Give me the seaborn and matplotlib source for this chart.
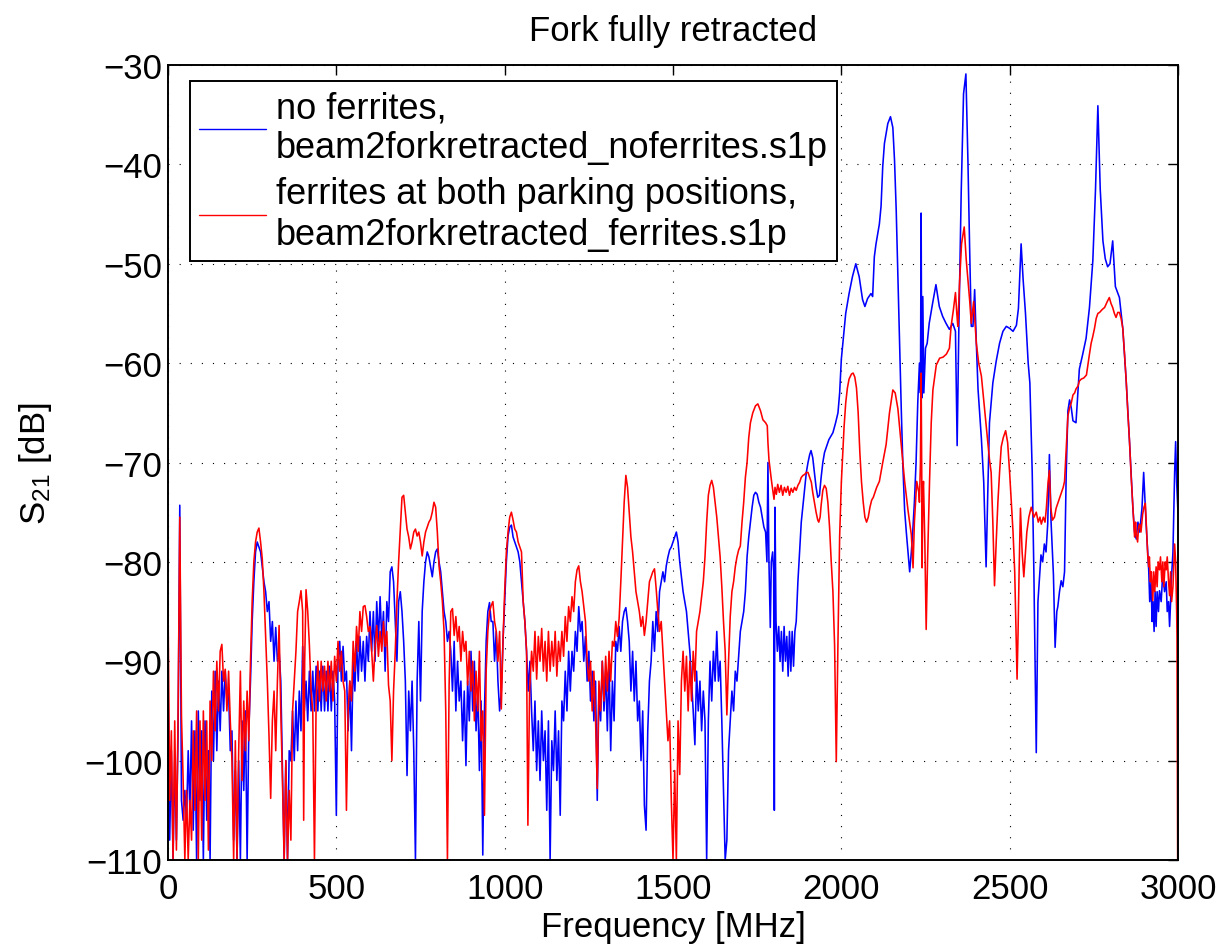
import matplotlib
matplotlib.use("Agg")
import matplotlib.pyplot as plt
import pandas as pd
import seaborn as sns

# ---------------- text ----------------
title = "Fork fully retracted"
xlabel = "Frequency [MHz]"
ylabel = "S$_{21}$ [dB]"
blue_label = "no ferrites,\nbeam2forkretracted_noferrites.s1p"
red_label = "ferrites at both parking positions,\nbeam2forkretracted_ferrites.s1p"
x_ticks = [0, 500, 1000, 1500, 2000, 2500, 3000]
y_ticks = [-110, -100, -90, -80, -70, -60, -50, -40, -30]

# ---------------- data (frequency MHz, S21 dB) ----------------
blue_points = [
    (0, -92), (5, -108), (10, -99), (15, -110), (20, -100), (25, -108), (30, -97), (35, -74.3),
    (40, -104), (45, -106), (50, -103), (55, -106), (60, -99), (65, -105), (70, -96), (75, -107),
    (80, -97), (85, -110), (90, -95), (95, -104), (100, -97), (105, -110), (110, -96), (115, -106),
    (120, -99), (125, -110), (130, -93), (135, -100), (140, -91), (145, -99), (150, -92), (155, -97),
    (160, -91), (165, -95), (170, -91), (175, -94), (180, -93), (185, -99), (190, -97), (195, -108),
    (200, -101), (205, -110), (210, -100), (215, -110), (220, -96), (225, -103), (230, -95), (235, -110),
    (240, -97), (245, -92), (250, -86), (255, -82), (260, -79), (265, -78), (270, -78.5), (275, -79),
    (280, -80.5), (285, -82), (290, -83), (295, -85), (300, -84), (305, -88), (310, -86), (315, -90),
    (320, -86.6), (325, -90), (330, -89), (335, -92), (340, -101), (345, -110), (350, -100), (355, -110),
    (360, -99), (365, -100), (370, -95), (375, -100), (380, -94), (385, -99), (390, -93), (395, -97),
    (400, -88.5), (405, -95), (410, -92), (415, -96), (420, -91), (425, -95), (430, -91), (435, -95),
    (440, -90.5), (445, -95), (450, -91), (455, -95), (460, -90.5), (465, -95), (470, -91), (475, -95),
    (480, -90.5), (485, -95), (490, -91), (495, -94), (500, -105.5), (505, -90), (510, -88), (515, -92),
    (520, -88.5), (525, -92), (530, -91), (535, -97), (540, -92), (545, -99), (550, -90), (555, -93),
    (560, -88), (565, -92), (570, -87.5), (575, -91), (580, -88), (585, -92), (590, -87.5), (595, -90),
    (600, -85), (605, -89), (610, -85), (615, -90), (620, -84), (625, -88), (630, -83.5), (635, -88),
    (640, -85), (645, -91), (650, -84), (655, -86), (660, -81), (665, -80.5), (670, -82), (675, -86),
    (680, -90), (685, -84), (690, -83), (695, -85), (700, -88), (705, -92), (710, -101.5), (715, -93),
    (720, -97), (725, -92), (730, -99), (735, -110), (740, -92), (745, -86), (750, -94), (755, -85),
    (760, -82), (765, -80), (770, -79), (775, -79.5), (780, -80.5), (785, -81.5), (790, -80), (795, -79),
    (800, -78.7), (805, -80), (810, -81), (815, -83), (820, -85), (825, -86), (830, -88), (835, -87),
    (840, -89), (845, -93), (850, -88), (855, -95), (860, -90), (865, -94), (870, -92), (875, -98),
    (880, -93), (885, -100.5), (890, -92), (895, -96), (900, -89), (905, -95), (910, -90), (915, -97),
    (920, -93), (925, -101), (930, -94), (935, -109.5), (940, -95), (945, -88), (950, -85), (955, -84.1),
    (960, -86), (965, -86), (970, -90), (975, -87), (980, -92), (985, -95), (990, -93), (995, -88),
    (1000, -84), (1005, -80), (1010, -77.4), (1015, -76.5), (1020, -76.3), (1025, -77.5), (1030, -78),
    (1035, -78.5), (1040, -79), (1045, -80), (1050, -82), (1055, -84), (1060, -86), (1065, -89),
    (1070, -93), (1075, -90), (1080, -95), (1085, -99), (1090, -94), (1095, -101), (1100, -96),
    (1105, -102), (1110, -95), (1115, -100), (1120, -97), (1125, -105), (1130, -96), (1135, -110),
    (1140, -98), (1145, -101), (1150, -95), (1155, -102), (1160, -97), (1165, -105.5), (1170, -94),
    (1175, -96), (1180, -91), (1185, -95), (1190, -89), (1195, -93), (1200, -89), (1205, -91),
    (1210, -87), (1215, -89), (1220, -84.5), (1225, -87), (1230, -86), (1235, -90), (1240, -87.5),
    (1245, -92), (1250, -89), (1255, -94), (1260, -91), (1265, -96), (1270, -92), (1275, -104),
    (1280, -93), (1285, -96), (1290, -90), (1295, -95), (1300, -91), (1305, -97), (1310, -90),
    (1315, -99), (1320, -92), (1325, -96), (1330, -88), (1335, -89), (1340, -86.5), (1345, -89),
    (1350, -86), (1355, -85), (1360, -84.6), (1365, -86), (1370, -88), (1375, -93), (1380, -89),
    (1385, -94), (1390, -90), (1395, -96), (1400, -94), (1405, -100), (1410, -95), (1415, -104.5),
    (1420, -107), (1425, -97), (1430, -92), (1435, -90), (1440, -86), (1445, -89), (1450, -85),
    (1455, -87), (1460, -83), (1465, -82), (1470, -81), (1475, -82), (1480, -80.4), (1485, -79.5),
    (1490, -78.8), (1495, -78.5), (1500, -78), (1505, -77.5), (1510, -77), (1515, -78), (1520, -80),
    (1525, -81.5), (1530, -83), (1535, -84), (1540, -85), (1545, -87), (1550, -89), (1555, -92),
    (1560, -95), (1565, -98.4), (1570, -91), (1575, -95), (1580, -92), (1585, -97), (1590, -93),
    (1595, -96), (1600, -110), (1605, -96), (1610, -90), (1615, -94), (1620, -89), (1625, -92),
    (1630, -87), (1635, -92), (1640, -90), (1645, -96), (1650, -103), (1655, -110), (1660, -108),
    (1665, -99), (1670, -96), (1675, -93), (1680, -95), (1685, -91), (1690, -92), (1695, -89.5),
    (1700, -87), (1705, -86), (1710, -85), (1715, -83), (1720, -79.5), (1725, -77.5), (1730, -76),
    (1735, -74.5), (1740, -73.3), (1745, -73), (1750, -73.2), (1755, -74), (1760, -74.5), (1765, -75.5),
    (1770, -76.5), (1775, -77), (1779, -80), (1782, -70), (1785, -80), (1789, -86.6), (1792, -80),
    (1796, -79), (1799, -81), (1801, -105), (1803, -74.5), (1806, -86), (1810, -89), (1814, -86.5),
    (1818, -90), (1822, -87), (1826, -91), (1830, -86.5), (1834, -90), (1838, -87.5), (1842, -91.5),
    (1846, -87), (1850, -91), (1854, -87), (1858, -90.5), (1862, -87), (1866, -86), (1871, -82),
    (1876, -79), (1881, -76), (1886, -74.3), (1891, -72.5), (1896, -71), (1901, -70), (1906, -69.2),
    (1910, -68.8), (1915, -69.5), (1920, -71), (1925, -72.5), (1930, -73.5), (1935, -73.3),
    (1940, -71.5), (1945, -70), (1950, -69), (1955, -68.5), (1963, -67.7), (1975, -67), (1983, -66),
    (1990, -65), (1995, -63), (2000, -59.6), (2013, -55), (2023, -53), (2033, -51.3), (2043, -50),
    (2053, -51.3), (2063, -53.6), (2070, -54.3), (2078, -53.5), (2088, -53), (2093, -53.3),
    (2098, -49.3), (2103, -48), (2113, -46), (2118, -44.2), (2123, -40.2), (2128, -37.9),
    (2138, -35.9), (2146, -35.2), (2153, -36.3), (2158, -39.6), (2163, -44.6), (2168, -51.3),
    (2173, -58), (2178, -64.6), (2183, -70.5), (2188, -74.8), (2193, -77), (2198, -79), (2203, -81),
    (2208, -79), (2212, -77), (2217, -74), (2222, -70), (2227, -64), (2232, -60), (2235, -63),
    (2237, -44.9), (2239, -63.5), (2242, -53.3), (2245, -63), (2250, -58.5), (2255, -58),
    (2261, -56), (2271, -54), (2281, -52.1), (2291, -54.3), (2301, -55.3), (2311, -56), (2321, -56.6),
    (2331, -56), (2339, -56.8), (2344, -68.3), (2349, -56.5), (2356, -42.9), (2363, -32.9),
    (2370, -30.9), (2376, -39.6), (2381, -48.3), (2386, -56.3), (2391, -56.3), (2396, -52.6),
    (2401, -58), (2406, -62.6), (2416, -67.6), (2423, -72), (2430, -80.5), (2435, -73), (2440, -66),
    (2450, -62), (2460, -59.8), (2470, -58), (2480, -56.8), (2490, -56.3), (2500, -56.5),
    (2510, -56.8), (2520, -56.2), (2526, -54.5), (2534, -48), (2540, -51.6), (2547, -55),
    (2555, -60), (2560, -62), (2567, -71), (2572, -81.3), (2579, -99.2), (2584, -84), (2593, -79.3),
    (2598, -80), (2603, -78.2), (2608, -79), (2613, -76.2), (2618, -69.2), (2623, -76), (2630, -81.3),
    (2635, -88.6), (2640, -85), (2643, -84.5), (2648, -83), (2653, -81.9), (2658, -82.5),
    (2663, -81), (2668, -71), (2673, -64.8), (2678, -63.7), (2683, -64.5), (2688, -65.8),
    (2697, -66), (2707, -60.6), (2717, -59.1), (2727, -57.5), (2737, -54.4), (2747, -49.7),
    (2755, -42.5), (2762, -34.1), (2769, -42.5), (2777, -47.7), (2784, -49.5), (2791, -50.3),
    (2798, -50), (2806, -47.7), (2814, -52.3), (2826, -53.4), (2836, -56.5), (2846, -61.7),
    (2856, -67.9), (2866, -74.6), (2871, -77), (2876, -77.7), (2881, -76), (2886, -77), (2893, -74.6),
    (2898, -71), (2905, -76), (2910, -79), (2913, -80.8), (2916, -84), (2920, -82), (2923, -86),
    (2926, -84), (2929, -87), (2932, -83), (2935, -86.5), (2938, -83), (2942, -85), (2945, -82.9),
    (2950, -84), (2955, -81), (2960, -83), (2965, -82), (2968, -85), (2972, -84), (2975, -86.5),
    (2978, -84), (2980, -82), (2985, -79), (2990, -71), (2993, -67.9), (2996, -72), (3000, -75.1),
]

red_points = [
    (0, -84), (5, -104), (10, -97), (15, -110), (20, -96), (25, -109), (30, -95), (35, -75.5),
    (40, -95.5), (45, -102), (50, -110), (55, -103), (60, -110), (65, -104), (70, -108), (75, -97),
    (80, -105), (85, -95), (90, -110), (95, -96), (100, -108), (105, -95), (110, -104), (115, -96),
    (120, -109), (125, -94), (130, -100), (135, -91), (140, -97), (145, -90), (150, -95), (155, -89),
    (160, -88.3), (165, -92), (170, -90.8), (175, -95), (180, -91), (185, -96), (190, -100),
    (195, -110), (200, -98), (205, -110), (210, -99), (215, -91), (220, -102), (225, -94), (230, -99),
    (235, -93), (240, -98), (245, -90), (250, -84), (255, -80), (260, -78), (265, -77), (270, -76.6),
    (275, -78), (280, -79.7), (285, -83), (290, -87.4), (295, -92), (300, -97.5), (305, -103.8),
    (310, -96), (315, -93), (320, -99), (325, -92), (330, -86.4), (335, -95), (340, -102), (345, -110),
    (350, -100), (355, -110), (360, -103), (365, -108), (370, -95), (375, -92), (380, -89), (385, -85),
    (390, -84), (395, -82.9), (400, -85), (403, -106), (406, -90), (410, -82.8), (415, -85),
    (420, -88.4), (425, -93), (430, -95), (435, -110), (440, -94), (445, -90), (450, -94), (455, -90),
    (460, -93), (465, -90.5), (470, -94), (475, -90), (480, -93), (485, -90), (490, -94), (495, -89.5),
    (500, -92), (505, -88), (510, -91), (515, -89), (520, -92), (525, -93), (530, -105), (535, -95),
    (540, -92), (545, -94), (550, -88), (555, -91), (560, -86.5), (565, -89), (570, -85), (575, -87),
    (580, -84.5), (585, -84.4), (590, -85.5), (595, -87), (600, -86.5), (605, -89), (610, -92),
    (615, -88.5), (620, -86.4), (625, -89.5), (630, -87), (635, -89), (640, -86), (645, -88.5),
    (650, -87), (655, -92.4), (660, -94), (665, -100), (670, -93), (675, -89), (680, -84),
    (685, -80), (690, -76.7), (695, -73.5), (700, -73.3), (705, -75), (710, -76.7), (715, -77.5),
    (720, -78.7), (725, -78), (730, -77), (735, -76.7), (740, -77.4), (745, -77), (750, -78),
    (755, -79.4), (760, -78), (765, -77), (770, -76.5), (775, -76), (780, -75.7), (785, -75),
    (790, -74), (795, -74.5), (800, -77), (805, -80.4), (810, -82), (815, -84), (820, -87),
    (825, -95), (830, -110), (835, -92.4), (840, -85), (845, -84.7), (850, -87.4), (855, -85.5),
    (860, -88), (865, -86.5), (870, -90), (875, -87), (880, -89), (885, -88), (890, -92.4), (895, -89),
    (900, -93), (905, -90), (910, -96), (915, -91), (920, -95), (925, -89), (930, -98), (935, -95),
    (940, -105.5), (945, -91), (950, -87), (955, -85), (960, -84.4), (965, -84), (970, -86),
    (975, -87), (980, -90), (985, -87), (990, -94.8), (995, -88), (1000, -83), (1005, -79),
    (1010, -77), (1015, -75.5), (1020, -75), (1025, -75.8), (1030, -76.7), (1035, -77), (1040, -78),
    (1045, -78.5), (1050, -79), (1055, -84), (1060, -86), (1065, -89), (1069, -106.5), (1074, -93),
    (1080, -89), (1085, -91), (1090, -87), (1095, -91.8), (1100, -87.5), (1105, -90), (1110, -86.7),
    (1115, -91), (1120, -88), (1125, -92), (1130, -87), (1135, -91), (1140, -88), (1145, -90.5),
    (1150, -87), (1155, -91.5), (1160, -88), (1165, -90), (1170, -87), (1175, -89.5), (1180, -85.5),
    (1185, -88), (1190, -84.5), (1195, -86), (1200, -83.5), (1205, -85), (1210, -82), (1215, -80.8),
    (1220, -80.4), (1225, -82), (1230, -83), (1235, -84.5), (1240, -86), (1245, -90), (1250, -92),
    (1255, -90), (1260, -95), (1265, -91), (1270, -96), (1275, -102.8), (1280, -92), (1285, -95),
    (1290, -90), (1295, -94), (1300, -89.5), (1305, -93), (1310, -89), (1315, -92), (1320, -88),
    (1325, -88.5), (1330, -86), (1335, -87.5), (1340, -85.7), (1345, -82), (1350, -78), (1355, -74),
    (1360, -71.3), (1365, -72.5), (1370, -75), (1375, -77.5), (1380, -79), (1385, -81), (1390, -83),
    (1395, -84), (1400, -85), (1405, -86.5), (1410, -85.5), (1415, -87.4), (1420, -86), (1425, -84),
    (1430, -82), (1435, -81.5), (1440, -81), (1445, -80.7), (1450, -82.7), (1455, -85), (1460, -87),
    (1465, -86), (1470, -89), (1475, -92), (1480, -95), (1485, -98), (1490, -96), (1495, -104),
    (1500, -110), (1505, -101), (1510, -110), (1515, -96), (1520, -101.4), (1525, -92), (1530, -89),
    (1535, -93), (1540, -89.5), (1545, -95), (1550, -90), (1555, -94), (1560, -89), (1565, -92),
    (1570, -87), (1575, -86), (1580, -85), (1585, -83.5), (1590, -82), (1595, -79.5), (1600, -76),
    (1605, -73.3), (1610, -72.3), (1615, -71.8), (1620, -72.5), (1625, -74), (1630, -75.5),
    (1635, -77.5), (1640, -79.5), (1645, -82.5), (1650, -86), (1655, -89), (1660, -95.4), (1665, -90),
    (1670, -85.5), (1675, -83), (1680, -82), (1685, -80.5), (1690, -79.5), (1695, -78.8),
    (1700, -78.4), (1705, -76), (1710, -74), (1715, -71.5), (1720, -70), (1725, -67.5), (1730, -66),
    (1737, -65), (1745, -64.3), (1752, -64.1), (1760, -64.8), (1767, -65.7), (1775, -66), (1780, -66.3),
    (1782, -68), (1785, -69.7), (1792, -71.7), (1800, -73.7), (1803, -72.5), (1807, -73.2),
    (1811, -72.2), (1816, -73), (1821, -72.3), (1826, -73.3), (1831, -72.5), (1836, -73),
    (1841, -72.4), (1846, -73.3), (1851, -72.6), (1856, -73), (1861, -72.5), (1866, -72.8),
    (1871, -72.3), (1876, -72), (1881, -71.5), (1886, -71.3), (1891, -71.2), (1896, -71), (1901, -71),
    (1906, -71.5), (1911, -72), (1915, -73), (1920, -74), (1925, -75), (1930, -75.8), (1933, -76),
    (1937, -75.5), (1940, -74.3), (1945, -72.8), (1950, -72.3), (1955, -72.6), (1960, -74),
    (1965, -76.5), (1970, -80), (1975, -83), (1980, -88.4), (1985, -100.1), (1990, -88),
    (1995, -77.4), (2000, -72), (2003, -70), (2008, -66.5), (2013, -64), (2018, -62.5), (2023, -61.6),
    (2030, -61.1), (2035, -61), (2040, -61.4), (2045, -62.5), (2050, -65), (2055, -69), (2060, -72),
    (2065, -74), (2070, -75.5), (2075, -76), (2080, -75.5), (2085, -74.5), (2090, -73.8),
    (2095, -73.5), (2100, -73), (2105, -72.5), (2113, -71.9), (2123, -70), (2133, -68.2), (2143, -65),
    (2153, -62.7), (2160, -63), (2168, -64.6), (2178, -68.2), (2188, -71.9), (2198, -74.8),
    (2208, -77.3), (2213, -80.6), (2217, -76), (2224, -71.9), (2230, -73), (2232, -74), (2235, -70),
    (2237, -61), (2239, -72), (2240, -80.6), (2242, -73), (2244, -71.9), (2248, -78), (2252, -86.8),
    (2256, -80), (2262, -71.9), (2267, -66), (2272, -62.7), (2282, -60.2), (2292, -59.5),
    (2302, -59.4), (2312, -59.1), (2321, -58.5), (2326, -56.3), (2333, -54.6), (2339, -52.9),
    (2343, -55), (2346, -56.3), (2351, -52), (2357, -48), (2365, -46.3), (2371, -49.6), (2381, -53.6),
    (2386, -56), (2393, -53.8), (2401, -58), (2408, -60), (2416, -61.3), (2420, -62.7), (2430, -66.3),
    (2440, -69.7), (2445, -71), (2450, -76), (2455, -82.4), (2460, -78), (2465, -74), (2470, -71),
    (2475, -68.4), (2481, -67.5), (2488, -66.8), (2494, -68), (2500, -71.1), (2505, -74), (2510, -77),
    (2515, -81), (2519, -87), (2522, -91.8), (2525, -87), (2528, -81), (2532, -74.6), (2537, -79),
    (2542, -81.5), (2547, -79), (2551, -77), (2557, -75.5), (2564, -74.5), (2572, -75.5), (2579, -75),
    (2585, -76), (2590, -75.5), (2594, -76.2), (2600, -75.5), (2605, -76), (2609, -74.6), (2614, -72),
    (2618, -70.8), (2622, -74.5), (2627, -75.8), (2633, -75.5), (2638, -74.6), (2644, -74),
    (2649, -73.5), (2654, -73), (2659, -72.5), (2663, -71.9), (2668, -68.5), (2673, -65.3),
    (2678, -64.5), (2683, -64), (2688, -63.2), (2693, -63), (2697, -62.6), (2703, -62.3),
    (2707, -61.8), (2713, -61.6), (2720, -61.5), (2728, -61.2), (2733, -60), (2737, -59.1),
    (2742, -58), (2747, -57.3), (2752, -56.5), (2757, -55.5), (2762, -55), (2767, -54.9),
    (2775, -54.6), (2782, -54.4), (2790, -53.8), (2796, -53.4), (2801, -54), (2806, -54.4),
    (2811, -55), (2816, -55.4), (2821, -54.9), (2826, -54.9), (2831, -55.5), (2836, -56.5),
    (2841, -59), (2846, -61.7), (2851, -65), (2856, -67.9), (2861, -71.5), (2866, -74.6),
    (2871, -77.5), (2874, -76), (2876, -77.2), (2880, -78), (2883, -76.5), (2886, -76.2), (2890, -77),
    (2895, -75.2), (2899, -74.5), (2903, -74.1), (2907, -77), (2910, -79.3), (2913, -80.5),
    (2915, -79.5), (2918, -82), (2921, -81), (2925, -83.9), (2928, -81), (2931, -83), (2935, -80.5),
    (2938, -82.5), (2941, -80), (2945, -80.8), (2948, -79.5), (2952, -82), (2955, -80), (2958, -82.5),
    (2962, -80), (2965, -80.8), (2968, -79.5), (2972, -82), (2975, -83.4), (2978, -81), (2981, -84),
    (2985, -82.5), (2988, -80), (2990, -78.2), (2993, -80), (2996, -85), (2997, -87.6), (2999, -110),
    (3000, -110),
]

blue_df = pd.DataFrame(blue_points, columns=["freq", "s21"])
red_df = pd.DataFrame(red_points, columns=["freq", "s21"])

# ---------------- style ----------------
sns.set_style("white")
plt.rcParams["font.family"] = ["Liberation Sans", "DejaVu Sans"]
plt.rcParams["mathtext.default"] = "regular"
plt.rcParams["axes.unicode_minus"] = True
for key in ["text.color", "axes.labelcolor", "xtick.color", "ytick.color", "axes.edgecolor"]:
    plt.rcParams[key] = "black"

W, H = 1221, 945
fig = plt.figure(figsize=(W / 100, H / 100), dpi=100)
fig.patch.set_facecolor("white")
L, R, T, B = 168, 1178, 66, 861
ax = fig.add_axes([L / W, 1 - B / H, (R - L) / W, (B - T) / H])

sns.lineplot(data=blue_df, x="freq", y="s21", color=(0, 0, 1), linewidth=1.15,
             estimator=None, sort=False, ax=ax, label=blue_label)
sns.lineplot(data=red_df, x="freq", y="s21", color=(1, 0, 0), linewidth=1.15,
             estimator=None, sort=False, ax=ax, label=red_label)

ax.set_xlim(0, 3000)
ax.set_ylim(-110, -30)
ax.set_xticks(x_ticks)
ax.set_yticks(y_ticks)
ax.set_axisbelow(True)
ax.grid(True, color="black", linestyle=(0, (1, 9)), linewidth=0.8)

for sp in ax.spines.values():
    sp.set_visible(True)
    sp.set_color("black")
    sp.set_linewidth(1.4)

ax.tick_params(axis="both", which="major", direction="in", length=7, width=1.0,
               top=True, right=True, labelsize=25, colors="black")
ax.tick_params(axis="x", pad=9)
ax.tick_params(axis="y", pad=4)

ax.set_title(title, fontsize=25, pad=18, color="black")
ax.set_xlabel(xlabel, fontsize=25, labelpad=3, color="black")
ax.set_ylabel(ylabel, fontsize=25, labelpad=22, color="black")

leg = ax.legend(loc="upper left", bbox_to_anchor=((190 - L) / (R - L), (B - 82) / (B - T)),
                borderaxespad=0, fontsize=26, frameon=True, fancybox=False,
                edgecolor="black", framealpha=1, handlelength=1.85, handletextpad=0.28,
                borderpad=0.25, labelspacing=0.3)
leg.get_frame().set_linewidth(1.4)
for t in leg.get_texts():
    t.set_linespacing(1.2)
    t.set_color("black")
for h in leg.legend_handles:
    h.set_linewidth(1.0)

fig.savefig("out.png", dpi=100, facecolor="white")
